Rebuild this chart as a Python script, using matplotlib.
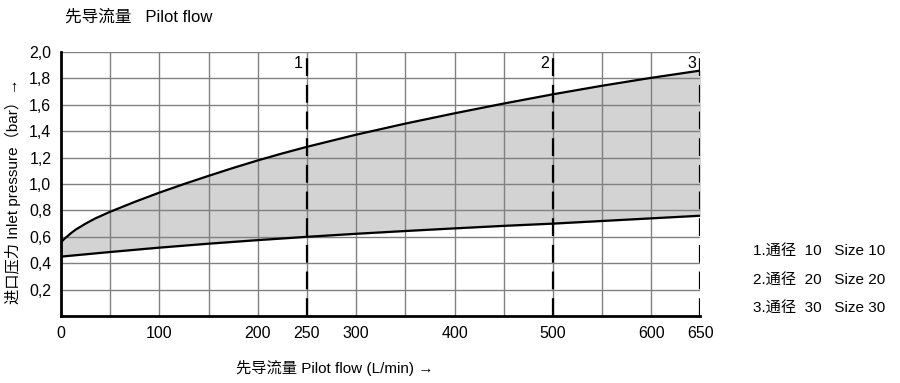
import numpy as np
from matplotlib import pyplot as plt

plt.rcParams['font.family'] = ['Liberation Sans', 'Noto Sans CJK SC', 'DejaVu Sans']

# pilot flow (L/min) and inlet pressure limits (bar)
flow_up = [0, 5, 10, 15, 25, 35, 50, 75, 100, 125, 150, 175, 200, 225, 250, 300,
           350, 400, 450, 500, 550, 600, 650]
upper = [0.56, 0.595, 0.627, 0.655, 0.70, 0.74, 0.79, 0.865, 0.935, 1.0, 1.062,
         1.122, 1.179, 1.232, 1.282, 1.374, 1.458, 1.536, 1.61, 1.68, 1.745, 1.805, 1.86]
flow_low = [0, 50, 100, 150, 200, 250, 300, 350, 400, 450, 500, 550, 600, 650]
lower = [0.45, 0.485, 0.518, 0.548, 0.575, 0.60, 0.623, 0.644, 0.664, 0.683,
         0.70, 0.72, 0.74, 0.76]

sizes = [250, 500, 650]
size_labels = ['1', '2', '3']
xticks = [0, 100, 200, 250, 300, 400, 500, 600, 650]
yticks = [0.2, 0.4, 0.6, 0.8, 1.0, 1.2, 1.4, 1.6, 1.8, 2.0]
legend_lines = ['1.通径  10   Size 10', '2.通径  20   Size 20', '3.通径  30   Size 30']

fig = plt.figure(figsize=(9, 3.83), dpi=100)
ax = fig.add_axes([0.0678, 0.175, 0.7105, 0.689])

# shade between the two limit curves
lower_on_up = np.interp(flow_up, flow_low, lower)
ax.fill_between(flow_up, lower_on_up, upper, color='#d3d3d3', zorder=1)

# grid
for gx in range(50, 650, 50):
    ax.axvline(gx, color='#808080', lw=1.0, zorder=2)
for gy in yticks:
    ax.axhline(gy, color='#808080', lw=1.0, zorder=2)

ax.plot(flow_up, upper, color='black', lw=1.6, zorder=3)
ax.plot(flow_low, lower, color='black', lw=1.6, zorder=3)

for s, lab in zip(sizes, size_labels):
    ax.axvline(s, color='black', lw=1.6, ls=(0, (8, 4)), zorder=4)
    ax.text(s - 4, 1.97, lab, ha='right', va='top', fontsize=11.5, zorder=5)

ax.set_xlim(0, 650)
ax.set_ylim(0, 2.0)
for side in ['top', 'right']:
    ax.spines[side].set_visible(False)
ax.spines['left'].set_linewidth(2)
ax.spines['bottom'].set_linewidth(2)

ax.set_xticks(xticks)
ax.set_xticklabels([str(v) for v in xticks], fontsize=11.5)
ax.set_yticks(yticks)
ax.set_yticklabels([('%.1f' % v).replace('.', ',') for v in yticks], fontsize=11.5)
ax.tick_params(length=0, pad=7)

fig.text(0.072, 0.955, '先导流量   Pilot flow', fontsize=12, ha='left', va='center')
fig.text(0.372, 0.038, '先导流量 Pilot flow (L/min) →', fontsize=11, ha='center', va='center')
fig.text(0.014, 0.5, '进口压力 Inlet pressure（bar）→', fontsize=11, rotation=90,
         ha='center', va='center')

for i, line in enumerate(legend_lines):
    fig.text(0.837, 0.343 - i * 0.075, line, fontsize=11, ha='left', va='center')

fig.savefig('out.png', dpi=100)
